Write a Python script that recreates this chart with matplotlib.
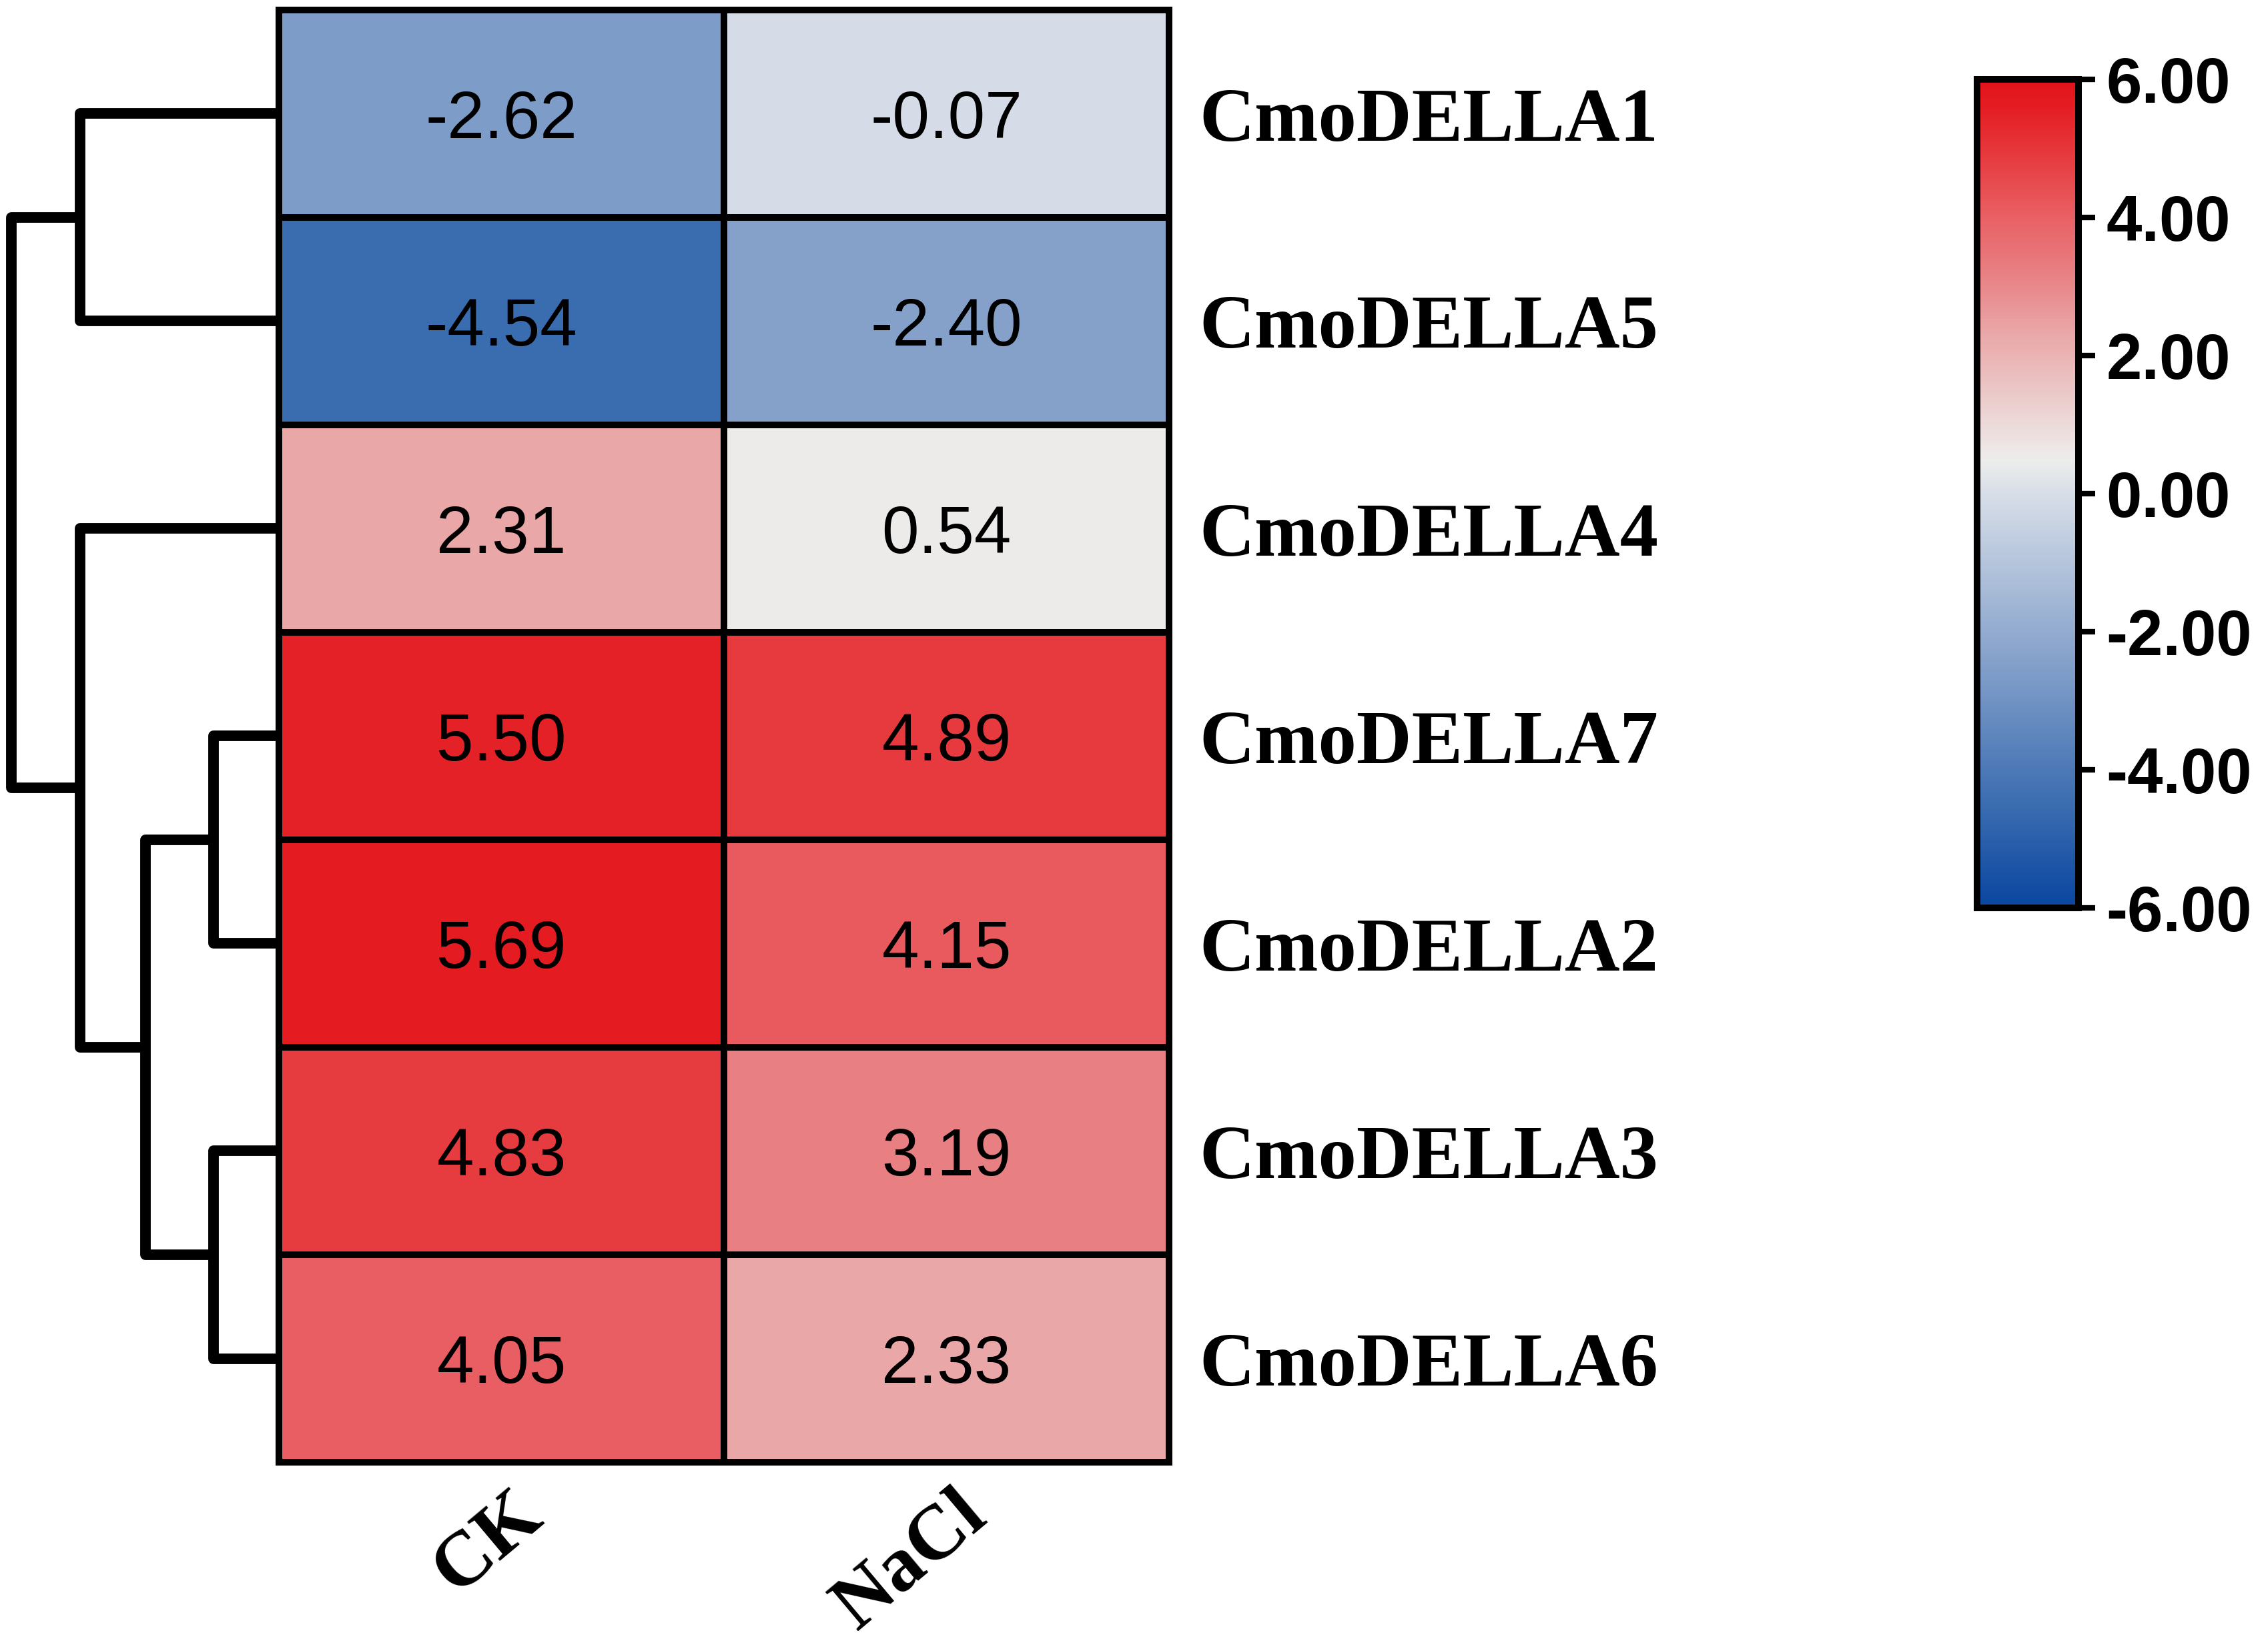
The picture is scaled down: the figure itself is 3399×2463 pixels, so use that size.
import numpy as np
import matplotlib
matplotlib.use("Agg")
import matplotlib.pyplot as plt
from matplotlib.colors import LinearSegmentedColormap, Normalize

# data
genes = ["CmoDELLA1", "CmoDELLA5", "CmoDELLA4", "CmoDELLA7",
         "CmoDELLA2", "CmoDELLA3", "CmoDELLA6"]
groups = ["CK", "NaCl"]
ck = [-2.62, -4.54, 2.31, 5.50, 5.69, 4.83, 4.05]
nacl = [-0.07, -2.40, 0.54, 4.89, 4.15, 3.19, 2.33]

# row dendrogram (scipy-like linkage: leaves 0..6, new nodes 7..12)
merge_left = [0, 3, 5, 8, 2, 7]
merge_right = [1, 4, 6, 9, 10, 11]
merge_height = [3.05, 1.0, 1.0, 2.05, 3.05, 4.1]

vals = np.array([ck, nacl]).T

# colour scale taken from the legend bar
anchors = [(-6.0, "#0A46A0"), (-4.54, "#3A6CB0"), (-2.62, "#7E9CC8"),
           (-0.07, "#D5DCE7"), (0.5, "#EDEDEC"), (2.31, "#EAA8A9"),
           (3.19, "#E88083"), (4.10, "#E85D61"), (4.86, "#E63C40"),
           (5.6, "#E41E24"), (6.0, "#E3131B")]
cmap = LinearSegmentedColormap.from_list(
    "rb", [((a + 6) / 12, c) for a, c in anchors])
norm = Normalize(-6, 6)

W, H = 3399, 2463
fig = plt.figure(figsize=(W / 300, H / 300), dpi=300)

hx0, hx1, hy0, hy1 = 418, 1752, 15, 2192
ax = fig.add_axes([hx0 / W, 1 - hy1 / H, (hx1 - hx0) / W, (hy1 - hy0) / H])
mesh = ax.pcolormesh(np.arange(3), np.arange(len(genes) + 1), vals,
                     cmap=cmap, norm=norm, edgecolors="black", linewidth=2.0)
ax.set_xlim(0, 2)
ax.set_ylim(len(genes), 0)
for s in ax.spines.values():
    s.set_linewidth(2.4)

for i in range(len(genes)):
    for j in range(2):
        ax.text(j + 0.5, i + 0.5, f"{vals[i, j]:.2f}", ha="center",
                va="center_baseline", fontsize=24, family="Liberation Sans",
                color="black")

ax.yaxis.tick_right()
ax.set_yticks(np.arange(len(genes)) + 0.5)
ax.set_yticklabels(genes, fontsize=27.5, family="Liberation Serif",
                   fontweight="bold")
ax.tick_params(axis="y", length=0, pad=11)
ax.set_xticks([])
for j, g in enumerate(groups):
    ax.text(j + 0.5 + 0.07, -0.03, g, transform=ax.get_xaxis_transform(),
            ha="right", va="center", rotation=40, rotation_mode="anchor",
            fontsize=28, family="Liberation Serif", fontweight="bold")

# dendrogram
dax = fig.add_axes([0, 1 - hy1 / H, hx0 / W, (hy1 - hy0) / H])
pos = {i: i + 0.5 for i in range(len(genes))}
hgt = {i: 0.0 for i in range(len(genes))}
node = len(genes)
for l, r, h in zip(merge_left, merge_right, merge_height):
    dax.plot([hgt[l], h, h, hgt[r]], [pos[l], pos[l], pos[r], pos[r]],
             color="black", lw=3.8, solid_capstyle="butt", solid_joinstyle="round")
    pos[node] = (pos[l] + pos[r]) / 2
    hgt[node] = h
    node += 1
dax.set_xlim(max(merge_height) * 418 / 401, 0)
dax.set_ylim(len(genes), 0)
dax.axis("off")

# colour bar
cx0, cx1, cy0, cy1 = 2963, 3115, 119, 1361
cax = fig.add_axes([cx0 / W, 1 - cy1 / H, (cx1 - cx0) / W, (cy1 - cy0) / H])
cb = fig.colorbar(mesh, cax=cax, ticks=np.arange(-6, 7, 2), format="%.2f")
cb.outline.set_linewidth(2.4)
cax.tick_params(length=6, width=2, pad=4)
for t in cax.get_yticklabels():
    t.set_fontsize(23)
    t.set_fontweight("bold")
    t.set_family("Liberation Sans")

fig.savefig("out.png", dpi=300)
